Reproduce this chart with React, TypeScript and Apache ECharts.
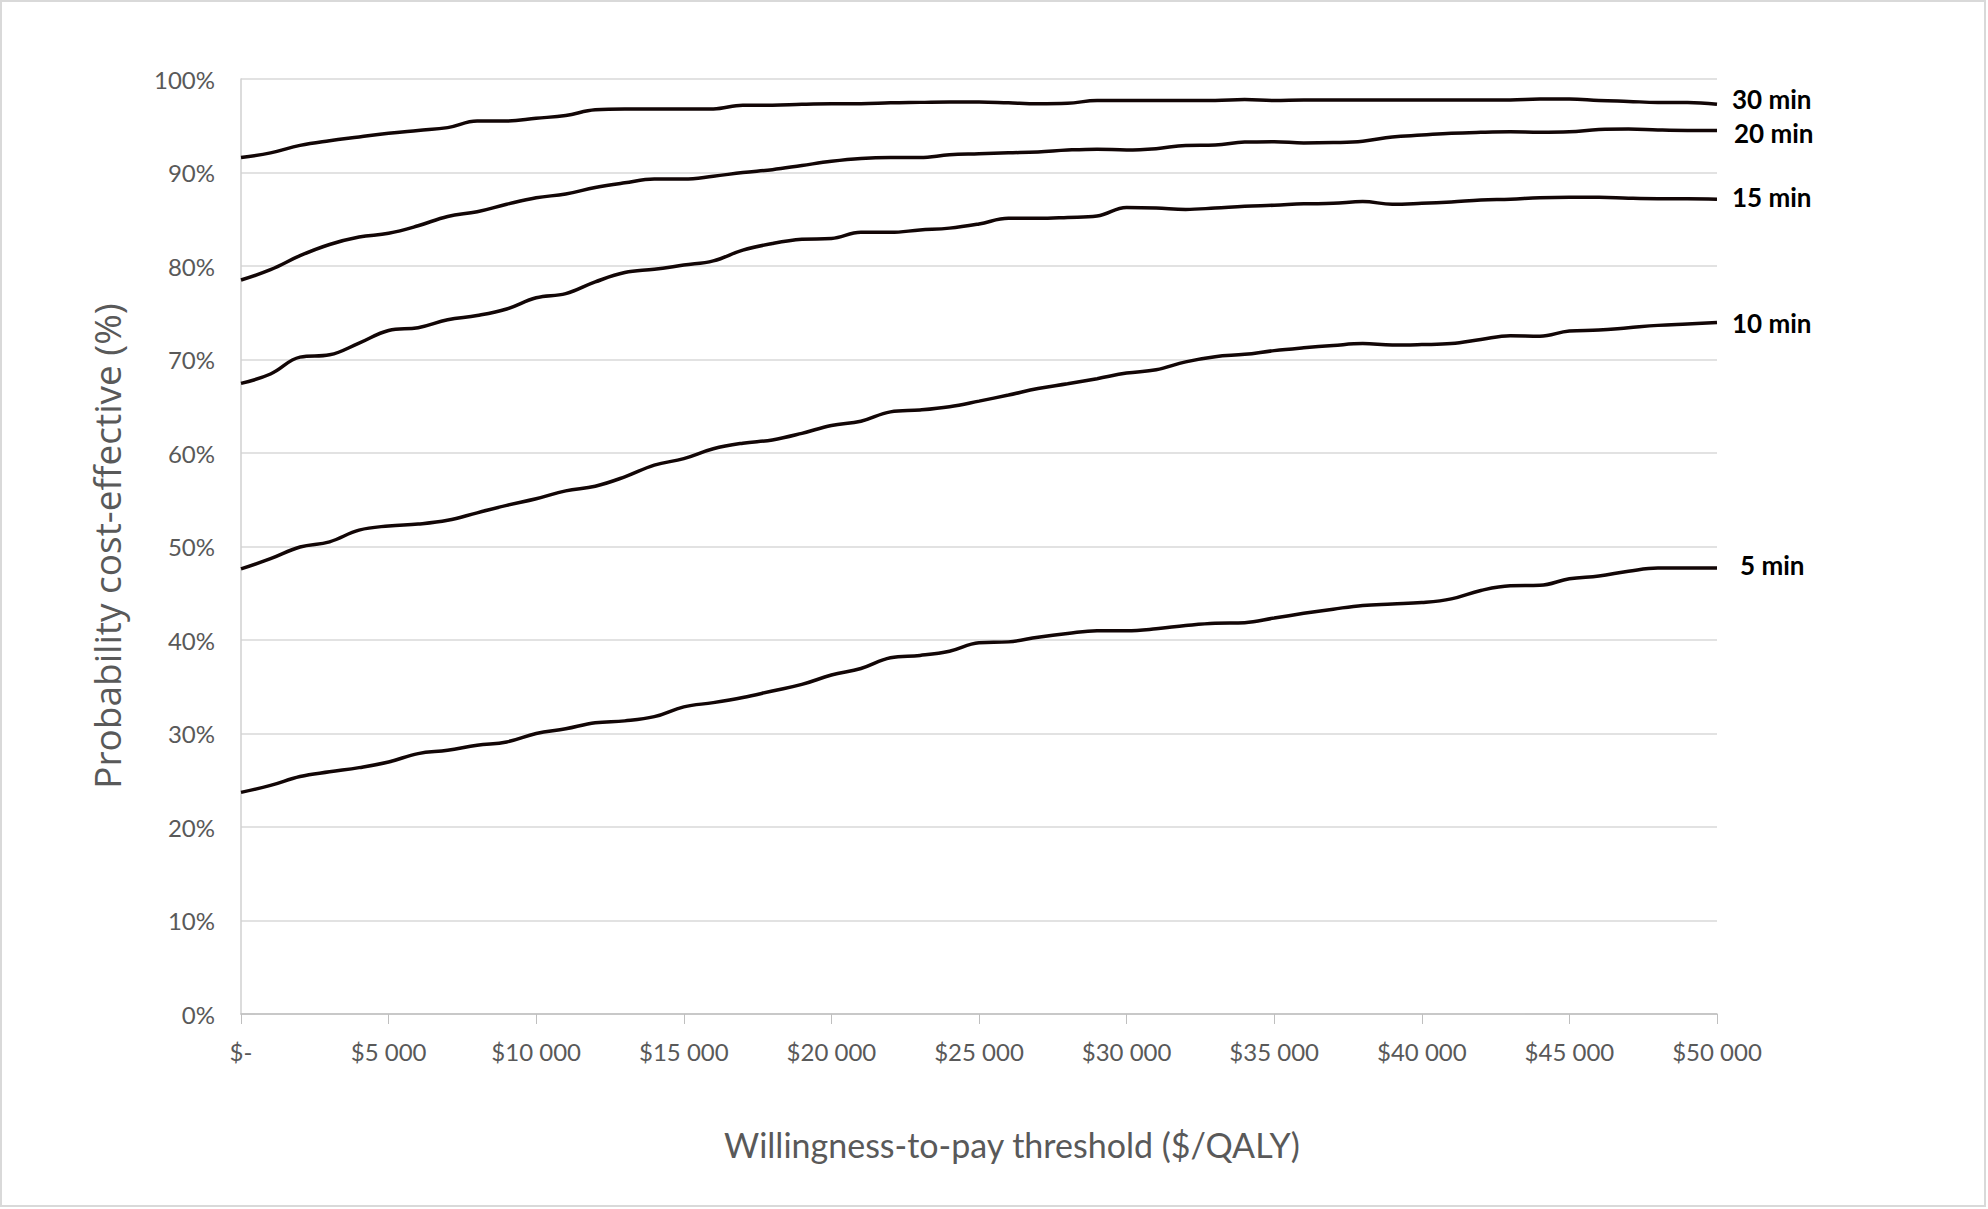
import React, { useEffect, useRef } from "react";
import * as echarts from "echarts";

const wtp = [
  0, 1000, 2000, 3000, 4000, 5000, 6000, 7000, 8000, 9000,
  10000, 11000, 12000, 13000, 14000, 15000, 16000, 17000, 18000, 19000,
  20000, 21000, 22000, 23000, 24000, 25000, 26000, 27000, 28000, 29000,
  30000, 31000, 32000, 33000, 34000, 35000, 36000, 37000, 38000, 39000,
  40000, 41000, 42000, 43000, 44000, 45000, 46000, 47000, 48000, 49000, 50000,
];

const min30 = [
  91.6, 92.1, 92.9, 93.4, 93.8, 94.2, 94.5, 94.8, 95.5, 95.5,
  95.8, 96.1, 96.7, 96.8, 96.8, 96.8, 96.8, 97.2, 97.2, 97.3,
  97.35, 97.35, 97.45, 97.5, 97.55, 97.55, 97.45, 97.35, 97.4, 97.7,
  97.7, 97.7, 97.7, 97.7, 97.8, 97.7, 97.75, 97.75, 97.75, 97.75,
  97.75, 97.75, 97.75, 97.75, 97.85, 97.85, 97.7, 97.6, 97.5, 97.5, 97.3,
];

const min20 = [
  78.5, 79.6, 81.1, 82.3, 83.1, 83.5, 84.3, 85.3, 85.8, 86.6,
  87.3, 87.7, 88.4, 88.9, 89.3, 89.3, 89.6, 90.0, 90.3, 90.75,
  91.2, 91.5, 91.6, 91.6, 91.9, 92.0, 92.1, 92.2, 92.4, 92.5,
  92.4, 92.55, 92.9, 92.95, 93.25, 93.3, 93.15, 93.2, 93.35, 93.8,
  94.0, 94.2, 94.3, 94.35, 94.3, 94.35, 94.6, 94.65, 94.55, 94.5, 94.5,
];

const min15 = [
  67.45, 68.45, 70.25, 70.5, 71.75, 73.1, 73.4, 74.25, 74.7, 75.4,
  76.6, 77.05, 78.3, 79.3, 79.65, 80.1, 80.55, 81.7, 82.4, 82.85,
  82.95, 83.6, 83.6, 83.85, 84.05, 84.5, 85.1, 85.1, 85.2, 85.35,
  86.25, 86.2, 86.05, 86.2, 86.4, 86.5, 86.65, 86.7, 86.9, 86.6,
  86.7, 86.85, 87.05, 87.15, 87.3, 87.35, 87.35, 87.25, 87.2, 87.2, 87.15,
];

const min10 = [
  47.6, 48.7, 49.95, 50.5, 51.75, 52.2, 52.4, 52.8, 53.6, 54.4,
  55.1, 55.95, 56.45, 57.45, 58.7, 59.4, 60.45, 61.05, 61.4, 62.1,
  62.95, 63.4, 64.4, 64.6, 64.95, 65.55, 66.2, 66.9, 67.4, 67.95,
  68.55, 68.9, 69.75, 70.3, 70.55, 70.95, 71.25, 71.5, 71.7, 71.55,
  71.6, 71.7, 72.15, 72.55, 72.5, 73.05, 73.15, 73.4, 73.65, 73.8, 73.95,
];

const min5 = [
  23.7, 24.45, 25.4, 25.9, 26.35, 26.95, 27.85, 28.2, 28.75, 29.1,
  30.0, 30.5, 31.15, 31.35, 31.8, 32.85, 33.3, 33.85, 34.55, 35.25,
  36.25, 36.95, 38.1, 38.35, 38.8, 39.7, 39.8, 40.3, 40.7, 41.0,
  41.0, 41.2, 41.55, 41.8, 41.85, 42.35, 42.85, 43.3, 43.7, 43.85,
  44.0, 44.4, 45.3, 45.8, 45.85, 46.55, 46.85, 47.35, 47.7, 47.7, 47.7,
];

const seriesNames = ["30 min", "20 min", "15 min", "10 min", "5 min"];
const seriesValues = [min30, min20, min15, min10, min5];
const labelOffsets = [
  [0, -5],
  [2, 3],
  [0, -2],
  [0, 0],
  [8, -3],
];

const X_TITLE = "Willingness-to-pay threshold ($/QALY)";
const Y_TITLE = "Probability cost-effective (%)";

const fmtMoney = (v: number) => {
  if (v === 0) return "$-";
  const s = String(Math.round(v));
  return "$" + s.replace(/\B(?=(\d{3})+(?!\d))/g, " ");
};

export default function App() {
  const ref = useRef<HTMLDivElement>(null);

  useEffect(() => {
    document.body.style.margin = "0";
    if (!ref.current) return;
    const chart = echarts.init(ref.current, undefined, { renderer: "svg" });

    const series = seriesNames.map((name, i) => ({
      name,
      type: "line",
      data: wtp.map((x, j) => [x, seriesValues[i][j]]),
      symbol: "none",
      smooth: 0.4,
      lineStyle: { color: "#120606", width: 3.5 },
      itemStyle: { color: "#120606" },
      endLabel: {
        show: true,
        formatter: () => name,
        color: "#000000",
        fontFamily: "Lato",
        fontWeight: "bold",
        fontSize: 26,
        distance: 15,
        offset: labelOffsets[i],
      },
    }));

    chart.setOption({
      animation: false,
      backgroundColor: "#ffffff",
      grid: { left: 241, right: 271, top: 79, bottom: 195, containLabel: false },
      xAxis: {
        type: "value",
        min: 0,
        max: 50000,
        interval: 5000,
        axisLine: { show: true, lineStyle: { color: "#bfbfbf", width: 1.5 } },
        axisTick: { show: true, length: 10, lineStyle: { color: "#bfbfbf" } },
        splitLine: { show: false },
        axisLabel: {
          formatter: fmtMoney,
          color: "#595959",
          fontFamily: "Lato",
          fontSize: 24,
          margin: 25,
        },
      },
      yAxis: {
        type: "value",
        min: 0,
        max: 100,
        interval: 10,
        axisLine: { show: true, lineStyle: { color: "#d0d0d0", width: 1.5 } },
        axisTick: { show: false },
        splitLine: { show: true, lineStyle: { color: "#d9d9d9", width: 1.5 } },
        axisLabel: {
          formatter: "{value}%",
          color: "#595959",
          fontFamily: "Lato",
          fontSize: 24,
          margin: 26,
        },
      },
      series,
      graphic: [
        {
          type: "rect",
          shape: { x: 1, y: 1, width: 1984, height: 1205 },
          style: { fill: "none", stroke: "#d9d9d9", lineWidth: 2 },
          silent: true,
        },
        {
          type: "text",
          x: 1012,
          y: 1144,
          style: {
            text: X_TITLE,
            fill: "#595959",
            font: "34px Lato",
            align: "center",
            verticalAlign: "middle",
          },
        },
        {
          type: "text",
          x: 106,
          y: 546,
          rotation: Math.PI / 2,
          style: {
            text: Y_TITLE,
            fill: "#595959",
            font: "37px 'Open Sans'",
            align: "center",
            verticalAlign: "middle",
          },
        },
      ],
    });

    return () => chart.dispose();
  }, []);

  return <div ref={ref} style={{ width: 1988, height: 1209 }} />;
}
